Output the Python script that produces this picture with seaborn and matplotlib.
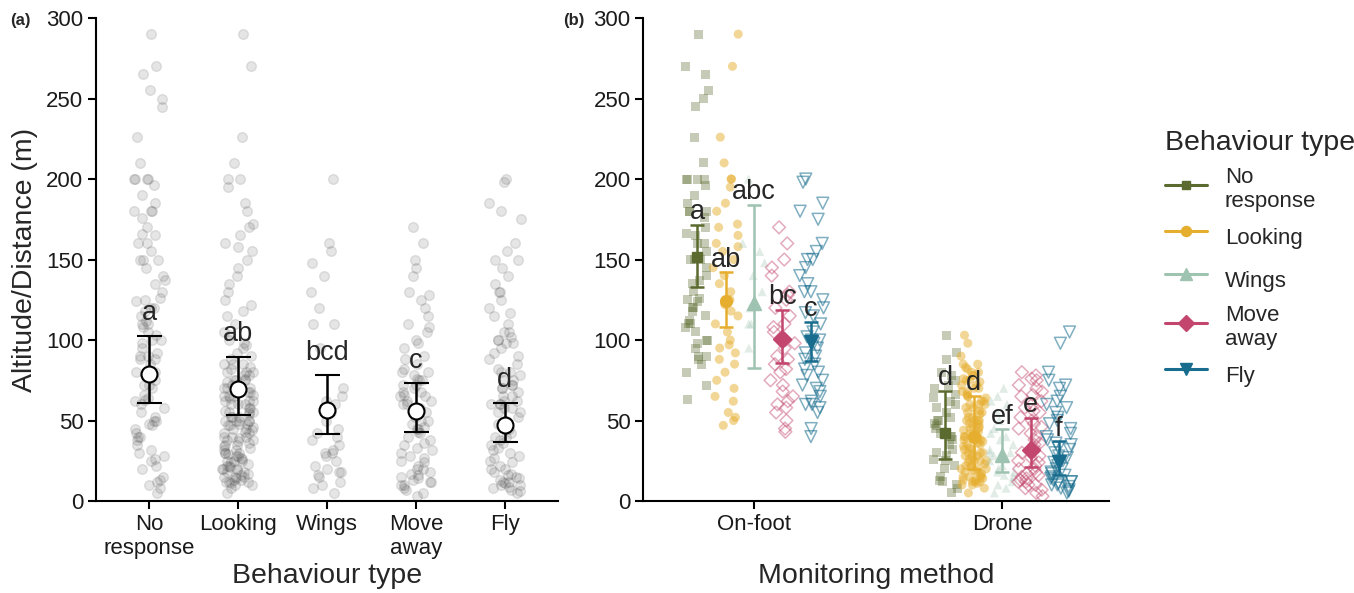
import numpy as np
import pandas as pd
import seaborn as sns
import matplotlib.pyplot as plt
from matplotlib.lines import Line2D

behaviours = ["No response", "Looking", "Wings", "Move away", "Fly"]
behaviour_ticks = ["No\nresponse", "Looking", "Wings", "Move\naway", "Fly"]
methods = ["On-foot", "Drone"]

nr_foot = [290, 270, 265, 255, 250, 245, 226, 210, 200, 200, 200, 200, 196, 190, 185, 180, 180, 180, 176, 170,
           166, 165, 160, 160, 155, 150, 150, 150, 145, 140, 137, 135, 130, 126, 125, 124, 120, 120, 118, 115,
           112, 110, 110, 108, 105, 100, 100, 98, 95, 90, 90, 88, 85, 80, 72, 63]
nr_drone = [103, 92, 88, 80, 78, 75, 72, 70, 66, 64, 62, 60, 58, 55, 52, 50, 50, 48, 47, 45, 42, 40, 40, 38,
            35, 32, 30, 28, 26, 25, 22, 20, 15, 13, 12, 10, 8, 5]
look_foot = [290, 270, 226, 210, 200, 200, 195, 185, 180, 172, 170, 165, 160, 158, 155, 150, 145, 140, 135, 130,
             125, 122, 118, 115, 110, 105, 100, 97, 95, 92, 88, 85, 80, 75, 70, 65, 62, 55, 52, 50, 47]
look_drone = [103, 98, 90, 85, 85, 83, 82, 80, 80, 78, 78, 76, 75, 75, 74, 72, 72, 70, 70, 68, 68, 66, 65, 65,
              64, 62, 62, 60, 60, 60, 58, 58, 56, 55, 55, 54, 52, 52, 50, 50, 50, 50, 48, 48, 47, 46, 45, 45,
              44, 43, 42, 42, 40, 40, 40, 39, 38, 38, 37, 36, 35, 35, 34, 33, 32, 32, 30, 30, 30, 29, 28, 28,
              27, 26, 25, 25, 25, 24, 23, 22, 22, 21, 20, 20, 20, 19, 18, 18, 17, 16, 15, 15, 15, 14, 13, 13,
              12, 12, 12, 11, 10, 10, 8, 5]
wings_foot = [200, 160, 155, 148, 140, 130, 120, 110, 110, 95]
wings_drone = [70, 65, 62, 60, 55, 50, 45, 42, 40, 38, 35, 32, 30, 30, 28, 25, 22, 20, 18, 18, 16, 15, 12, 10, 8, 5]
ma_foot = [170, 160, 150, 145, 140, 130, 128, 125, 120, 115, 110, 108, 105, 100, 98, 95, 90, 88, 85, 82, 80, 75,
           72, 68, 65, 62, 60, 58, 55, 50, 45, 43]
ma_drone = [80, 78, 76, 75, 72, 70, 68, 66, 65, 62, 60, 58, 56, 55, 52, 50, 48, 46, 45, 42, 40, 38, 36, 35, 33,
            32, 30, 28, 27, 25, 24, 22, 20, 20, 18, 17, 16, 15, 14, 13, 12, 12, 10, 10, 8, 7, 5, 3]
fly_foot = [200, 198, 185, 180, 175, 160, 155, 150, 150, 145, 140, 135, 130, 130, 125, 120, 117, 115, 110, 105,
            102, 100, 100, 98, 95, 92, 90, 88, 85, 82, 80, 78, 75, 72, 70, 68, 65, 62, 60, 60, 58, 55, 45, 40]
fly_drone = [105, 98, 80, 75, 72, 70, 65, 62, 60, 58, 55, 52, 50, 48, 45, 42, 40, 38, 36, 35, 33, 32, 30, 28, 27,
             25, 24, 22, 20, 20, 18, 17, 16, 15, 14, 13, 12, 12, 11, 10, 10, 9, 8, 7, 6, 5]

# (a) model estimates by behaviour
a_mean = [79, 69.5, 56.5, 56, 47]
a_low = [61, 53.5, 41.5, 43, 36.5]
a_high = [102.5, 89.5, 78, 73, 61]
a_letters = ["a", "ab", "bcd", "c", "d"]

# (b) model estimates by method x behaviour
foot_mean = [151.5, 124, 123, 100.5, 99]
foot_low = [133, 108, 82.5, 86, 87]
foot_high = [171.5, 142, 184, 118.5, 111]
foot_letters = ["a", "ab", "abc", "bc", "c"]
drone_mean = [42, 40, 28.5, 31.5, 24.5]
drone_low = [26, 20, 18, 21, 16]
drone_high = [68.5, 65, 44.5, 51.5, 37]
drone_letters = ["d", "d", "ef", "e", "f"]

colors = ["#5b6b2f", "#e6ae2e", "#9fc3b1", "#c2466d", "#186d8e"]
markers = ["s", "o", "^", "D", "v"]
pt_size = [6.5, 6.5, 6.5, 6.5, 8.5]
pt_alpha = [0.35, 0.5, 0.3, 0.45, 0.55]
pt_open = [False, False, False, True, True]
mean_ms = [7.5, 8.5, 10, 9, 10.5]

raw = {"No response": (nr_foot, nr_drone), "Looking": (look_foot, look_drone),
       "Wings": (wings_foot, wings_drone), "Move away": (ma_foot, ma_drone),
       "Fly": (fly_foot, fly_drone)}
rows = []
for beh in behaviours:
    for m, vals in zip(methods, raw[beh]):
        for v in vals:
            rows.append({"behaviour": beh, "method": m, "value": v})
df = pd.DataFrame(rows)

np.random.seed(3)
sns.set_style("ticks")
plt.rcParams["font.family"] = ["Liberation Sans", "DejaVu Sans"]

fig = plt.figure(figsize=(13.54, 5.93), dpi=100)
ax1 = fig.add_axes([0.0709, 0.1551, 0.3412, 0.8145])
ax2 = fig.add_axes([0.4749, 0.1551, 0.3442, 0.8145])

# ---- panel (a)
sns.stripplot(data=df, x="behaviour", y="value", order=behaviours, color="#4a4a4a", alpha=0.14,
              size=7, jitter=0.18, linewidth=1, edgecolor="#4a4a4a", ax=ax1, zorder=1)
xa = np.arange(len(behaviours))
ax1.errorbar(xa, a_mean, yerr=[np.subtract(a_mean, a_low), np.subtract(a_high, a_mean)], fmt="o",
             mfc="white", mec="black", mew=1.5, ms=11.5, color="black", elinewidth=1.8, capsize=9,
             capthick=1.8, zorder=5)
for x, h, lab in zip(xa, a_high, a_letters):
    ax1.text(x, h + 14, lab, ha="center", va="center", fontsize=19.5)
ax1.set_xticks(xa)
ax1.set_xticklabels(behaviour_ticks)
ax1.set_xlim(-0.6, 4.6)
ax1.set_xlabel("Behaviour type", fontsize=20.5)
ax1.set_ylabel("Altitude/Distance (m)", fontsize=20.5, labelpad=6)

# ---- panel (b): two padding slots so the dodge spacing matches
slots = ["pad_l"] + behaviours + ["pad_r"]
slot_colors = dict(zip(slots, ["white"] + colors + ["white"]))
slot_w = 0.8 / len(slots)
for k, beh in enumerate(behaviours):
    sub = df[df["behaviour"] == beh]
    n0 = len(ax2.collections)
    kw = dict(linewidth=1.1, edgecolor=colors[k]) if pt_open[k] else dict(linewidth=0)
    sns.stripplot(data=sub, x="method", y="value", hue="behaviour", order=methods, hue_order=slots,
                  palette=slot_colors, dodge=True, jitter=0.36, marker=markers[k], size=pt_size[k],
                  alpha=pt_alpha[k], legend=False, ax=ax2, zorder=1, **kw)
    if pt_open[k]:
        for c in ax2.collections[n0:]:
            c.set_facecolor("none")

for mi, (mean, low, high, letters) in enumerate([(foot_mean, foot_low, foot_high, foot_letters),
                                                 (drone_mean, drone_low, drone_high, drone_letters)]):
    for k in range(len(behaviours)):
        x = mi - 0.4 + slot_w * (k + 1.5)
        ax2.errorbar([x], [mean[k]], yerr=[[mean[k] - low[k]], [high[k] - mean[k]]], fmt=markers[k],
                     color=colors[k], ms=mean_ms[k], elinewidth=1.8, capsize=5, capthick=1.8, zorder=5)
        ax2.text(x, high[k] + 8, letters[k], ha="center", va="center", fontsize=19.5, zorder=6)
ax2.set_xticks([0, 1])
ax2.set_xticklabels(methods)
ax2.set_xlim(-0.448, 1.431)
ax2.set_xlabel("Monitoring method", fontsize=20.5)
ax2.set_ylabel("")

for ax in (ax1, ax2):
    ax.set_ylim(0, 300)
    ax.set_yticks(range(0, 301, 50))
    ax.xaxis.set_label_coords(0.5, -0.128)
    sns.despine(ax=ax)
    for s in ("left", "bottom"):
        ax.spines[s].set_linewidth(1.5)
        ax.spines[s].set_color("black")
    ax.tick_params(labelsize=16, length=6, width=1.5, color="black", labelcolor="#1a1a1a", pad=3)

fig.text(10 / 1354, 1 - 20 / 593, "(a)", fontsize=12, fontweight="bold", va="center")
fig.text(563 / 1354, 1 - 20 / 593, "(b)", fontsize=12, fontweight="bold", va="center")

handles = [Line2D([], [], color=c, marker=m, ms=ms * 0.85, lw=2.2) for c, m, ms in zip(colors, markers, mean_ms)]
leg = fig.legend(handles, behaviour_ticks, title="Behaviour type", loc="upper left",
                 bbox_to_anchor=(1145 / 1354, 1 - 110 / 593), frameon=False, fontsize=16, title_fontsize=20.5,
                 alignment="left", handlelength=1.9, handleheight=2.2, labelspacing=0.27, handletextpad=0.8)
leg._legend_box.sep = 8  # gap between title and first key

fig.savefig("out.png", dpi=100)
